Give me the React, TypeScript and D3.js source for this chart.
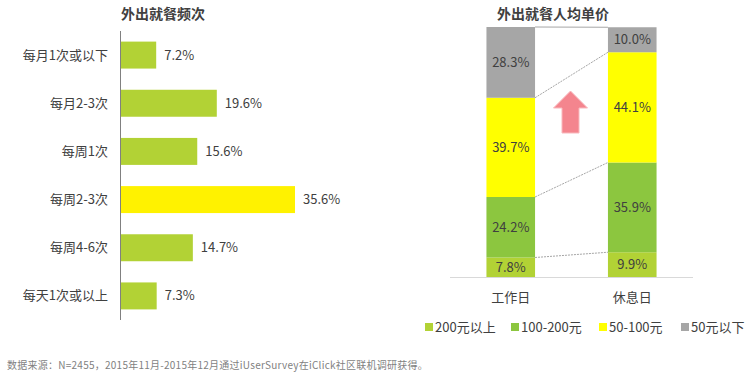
import React from "react";
import * as d3 from "d3";

const freqCategories = ["每月1次或以下", "每月2-3次", "每周1次", "每周2-3次", "每周4-6次", "每天1次或以上"];
const freqValues = [7.2, 19.6, 15.6, 35.6, 14.7, 7.3];
const freqHighlight = "每周2-3次";

const priceCategories = ["工作日", "休息日"];
const priceSeries = ["200元以上", "100-200元", "50-100元", "50元以下"];
const price200Plus = [7.8, 9.9];
const price100to200 = [24.2, 35.9];
const price50to100 = [39.7, 44.1];
const priceUnder50 = [28.3, 10.0];
const seriesColors = ["#b2d235", "#8cc63f", "#ffff00", "#a6a6a6"];

const sourceNote = "数据来源：N=2455，2015年11月-2015年12月通过iUserSurvey在iClick社区联机调研获得。";

const FONT = "'Microsoft YaHei', 'Noto Sans CJK SC', 'Noto Sans', sans-serif";
const TEXT = "#404040";

export default function App() {
  // Left chart
  const yBand = d3.scaleBand<string>().domain(freqCategories).range([31, 320]).paddingInner(0.44).paddingOuter(0.22);
  const xLin = d3.scaleLinear().domain([0, 35.6]).range([121, 295]);

  // Right chart
  const xCat = d3.scaleBand<string>().domain(priceCategories).range([450, 693]).paddingInner(0.6).paddingOuter(0.3);
  const yPct = d3.scaleLinear().domain([0, 100]).range([277, 27]);
  const seriesData = [price200Plus, price100to200, price50to100, priceUnder50];
  const table = priceCategories.map((c, i) => {
    const row: any = { cat: c };
    priceSeries.forEach((s, j) => (row[s] = seriesData[j][i]));
    return row;
  });
  const stacked = d3.stack<any>().keys(priceSeries)(table);

  const bw = xCat.bandwidth();
  const x0 = (xCat(priceCategories[0]) as number) + bw;
  const x1 = xCat(priceCategories[1]) as number;

  const legendX = [425, 511, 599, 681];

  // arrow
  const ax = 570.5;
  const arrowPath = `M${ax},91 L${ax + 17},108 L${ax + 8.5},108 L${ax + 8.5},133 L${ax - 8.5},133 L${ax - 8.5},108 L${ax - 17},108 Z`;

  return (
    <svg width={746} height={377} style={{ position: "absolute", left: 0, top: 0, background: "#fff" }} fontFamily={FONT}>
      {/* Left title */}
      <text x={163} y={19} textAnchor="middle" fontSize={14} fontWeight="bold" fill={TEXT}>外出就餐频次</text>
      {freqCategories.map((c, i) => {
        const y = yBand(c) as number;
        const h = yBand.bandwidth();
        return (
          <g key={c}>
            <rect x={xLin(0)} y={y} width={xLin(freqValues[i]) - xLin(0)} height={h} fill={c === freqHighlight ? "#fff200" : "#b2d235"} />
            <text x={108} y={y + h / 2} dy="0.35em" textAnchor="end" fontSize={13} fill={TEXT}>{c}</text>
            <text x={xLin(freqValues[i]) + 8} y={y + h / 2} dy="0.35em" fontSize={13} fill={TEXT}>{freqValues[i].toFixed(1)}%</text>
          </g>
        );
      })}
      <line x1={120.5} x2={120.5} y1={31} y2={320} stroke="#808080" strokeWidth={1} />

      {/* Right title */}
      <text x={553} y={19} textAnchor="middle" fontSize={14} fontWeight="bold" fill={TEXT}>外出就餐人均单价</text>
      {stacked.map((layer, j) => (
        <g key={layer.key}>
          {layer.map((d, i) => {
            const x = xCat(priceCategories[i]) as number;
            const yTop = yPct(d[1]);
            const yBot = yPct(d[0]);
            return (
              <g key={i}>
                <rect x={x} y={yTop} width={bw} height={yBot - yTop} fill={seriesColors[j]} />
                <text x={x + bw / 2} y={(yTop + yBot) / 2} dy="0.35em" textAnchor="middle" fontSize={13} fill={TEXT}>
                  {seriesData[j][i].toFixed(1)}%
                </text>
              </g>
            );
          })}
          <line x1={x0} x2={x1} y1={yPct(layer[0][1])} y2={yPct(layer[1][1])} stroke="#a6a6a6" strokeWidth={1} strokeDasharray={j === priceSeries.length - 1 ? undefined : "2,1"} />
        </g>
      ))}
      <line x1={450} x2={693} y1={277.5} y2={277.5} stroke="#d9d9d9" strokeWidth={1} />
      {priceCategories.map((c) => (
        <text key={c} x={(xCat(c) as number) + bw / 2} y={297} dy="0.35em" textAnchor="middle" fontSize={13} fill={TEXT}>{c}</text>
      ))}
      <path d={arrowPath} fill="#f4858e" stroke="#f9b8bd" strokeWidth={1} />

      {/* Legend */}
      {priceSeries.map((s, j) => (
        <g key={s}>
          <rect x={legendX[j]} y={323} width={8} height={8} fill={seriesColors[j]} />
          <text x={legendX[j] + 10} y={327} dy="0.35em" fontSize={13} fill={TEXT}>{s}</text>
        </g>
      ))}

      <text x={7} y={365} dy="0.35em" fontSize={10} letterSpacing={0.25} fill="#7f7f7f">{sourceNote}</text>
    </svg>
  );
}
